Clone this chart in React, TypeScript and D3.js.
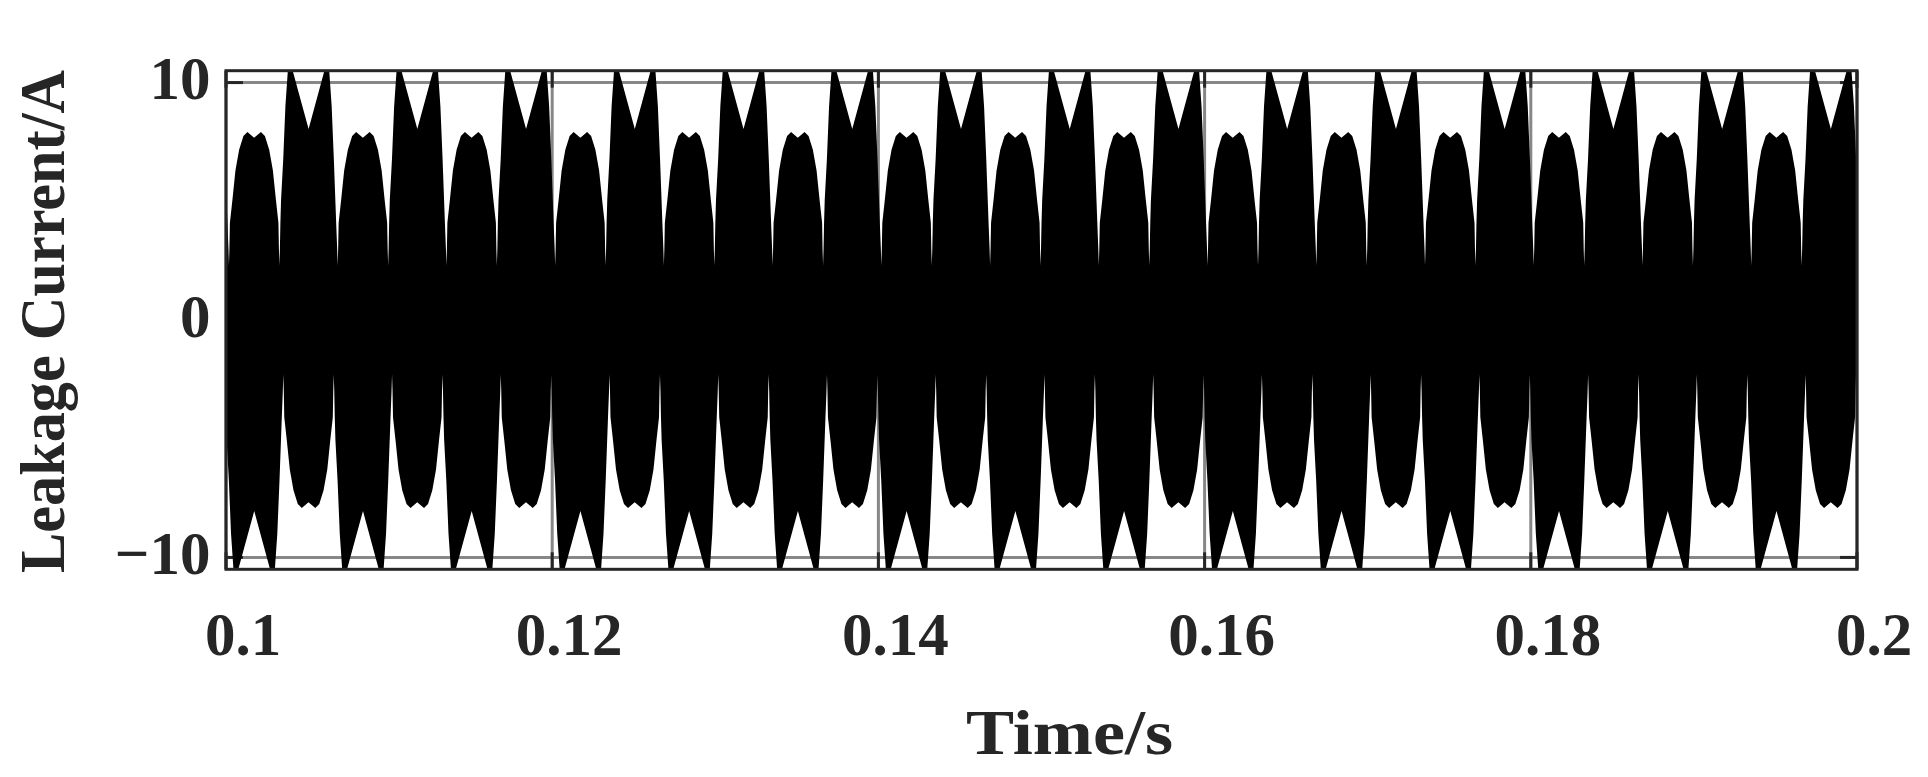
import React from "react";
import * as d3 from "d3";

// ---- Data ----
// Axis ticks
const X_TICKS = [0.1, 0.12, 0.14, 0.16, 0.18, 0.2];
const X_TICK_LABELS = ["0.1", "0.12", "0.14", "0.16", "0.18", "0.2"];
const Y_TICKS = [-10, 0, 10];
const Y_TICK_LABELS = ["\u221210", "0", "10"];
const X_DOMAIN = [0.1, 0.2];
const Y_DOMAIN = [-10.5, 10.5];

// Leakage current: high-frequency switching ripple whose envelope repeats
// every 1/150 s. Upper envelope of one period (phase in ms, value in A):
// a rounded lobe (~7.9 A, small dip) followed by an "M" lobe (peaks > 10.5 A).
const ENV_PHASE_MS = [
  0, 0.03, 0.06, 0.214, 0.398, 0.625, 0.888, 1.134, 1.544, 1.961, 2.206, 2.469,
  2.696, 2.88, 3.035, 3.064, 3.094,
  3.124, 3.155, 3.196, 3.327, 3.462, 3.67, 4.884, 6.09, 6.299, 6.434, 6.575, 6.637, 6.667,
];
const ENV_UPPER_A = [
  2.3, 3.0, 4.1, 5.06, 6.3, 7.17, 7.75, 7.92, 7.68, 7.92, 7.75, 7.17,
  6.3, 5.06, 4.1, 3.0, 2.3,
  3.0, 4.1, 5.06, 6.75, 9.0, 11.1, 8.04, 11.1, 9.0, 6.75, 4.1, 3.0, 2.3,
];
const ENV_PERIOD_S = 1 / 150;
const FIRST_PERIOD_START_S = 0.10018;
const PERIOD_INDEXES = d3.range(-1, 16);

const W = 1928;
const H = 777;
const PLOT = { left: 226, right: 1857, top: 70.7, bottom: 569.3 };
const TEXT = "#262626";
const FONT = "'Liberation Serif', 'Times New Roman', serif";

export default function App() {
  const x = d3.scaleLinear().domain(X_DOMAIN).range([PLOT.left, PLOT.right]);
  const y = d3.scaleLinear().domain(Y_DOMAIN).range([PLOT.bottom, PLOT.top]);

  const upper: [number, number][] = [];
  const lower: [number, number][] = [];
  PERIOD_INDEXES.forEach((k) => {
    const start = FIRST_PERIOD_START_S + k * ENV_PERIOD_S;
    ENV_PHASE_MS.forEach((p, i) => {
      const t = start + p / 1000;
      upper.push([x(t), y(ENV_UPPER_A[i])]);
      lower.push([x(t + ENV_PERIOD_S / 2), y(-ENV_UPPER_A[i])]);
    });
  });
  const line = d3.line();
  const poly = [...upper, ...lower.slice().reverse()];
  const areaPath = (line(poly) || "") + "Z";

  const tickLen = 17;
  const gridColor = "#878787";

  return (
    <svg
      width={W}
      height={H}
      style={{ position: "absolute", left: 0, top: 0, background: "#fff" }}
    >
      <defs>
        <clipPath id="plotClip">
          <rect
            x={PLOT.left}
            y={PLOT.top}
            width={PLOT.right - PLOT.left}
            height={PLOT.bottom - PLOT.top}
          />
        </clipPath>
      </defs>
      <rect x={0} y={0} width={W} height={H} fill="#fff" />
      {/* grid */}
      <g stroke={gridColor} strokeWidth={3}>
        {X_TICKS.map((t) => (
          <line key={"gx" + t} x1={x(t)} x2={x(t)} y1={PLOT.top} y2={PLOT.bottom} />
        ))}
        {Y_TICKS.map((t) => (
          <line key={"gy" + t} x1={PLOT.left} x2={PLOT.right} y1={y(t)} y2={y(t)} />
        ))}
      </g>
      {/* ticks */}
      <g stroke={TEXT} strokeWidth={3}>
        {X_TICKS.map((t) => (
          <g key={"tx" + t}>
            <line x1={x(t)} x2={x(t)} y1={PLOT.bottom} y2={PLOT.bottom - tickLen} />
            <line x1={x(t)} x2={x(t)} y1={PLOT.top} y2={PLOT.top + tickLen} />
          </g>
        ))}
        {Y_TICKS.map((t) => (
          <g key={"ty" + t}>
            <line x1={PLOT.left} x2={PLOT.left + tickLen} y1={y(t)} y2={y(t)} />
            <line x1={PLOT.right} x2={PLOT.right - tickLen} y1={y(t)} y2={y(t)} />
          </g>
        ))}
      </g>
      {/* signal */}
      <path d={areaPath} fill="#000" stroke="none" clipPath="url(#plotClip)" />
      {/* frame */}
      <rect
        x={PLOT.left}
        y={PLOT.top}
        width={PLOT.right - PLOT.left}
        height={PLOT.bottom - PLOT.top}
        fill="none"
        stroke={TEXT}
        strokeWidth={3}
      />
      {/* tick labels */}
      <g fill={TEXT} fontFamily={FONT} fontWeight="bold" fontSize={61}>
        {X_TICKS.map((t, i) => (
          <text key={"lx" + t} x={x(t) + 17} y={655} textAnchor="middle">
            {X_TICK_LABELS[i]}
          </text>
        ))}
        {Y_TICKS.map((t, i) => (
          <text key={"ly" + t} x={210.5} y={y(t) + 16.5} textAnchor="end">
            {Y_TICK_LABELS[i]}
          </text>
        ))}
      </g>
      {/* axis labels */}
      <text
        x={1069.5}
        y={754}
        textAnchor="middle"
        fill={TEXT}
        fontFamily={FONT}
        fontWeight="bold"
        fontSize={64}
        textLength={207}
        lengthAdjust="spacingAndGlyphs"
      >
        Time/s
      </text>
      <text
        transform={`translate(63.5, 321.5) rotate(-90)`}
        textAnchor="middle"
        fill={TEXT}
        fontFamily={FONT}
        fontWeight="bold"
        fontSize={64}
        textLength={503}
        lengthAdjust="spacingAndGlyphs"
      >
        Leakage Current/A
      </text>
    </svg>
  );
}
